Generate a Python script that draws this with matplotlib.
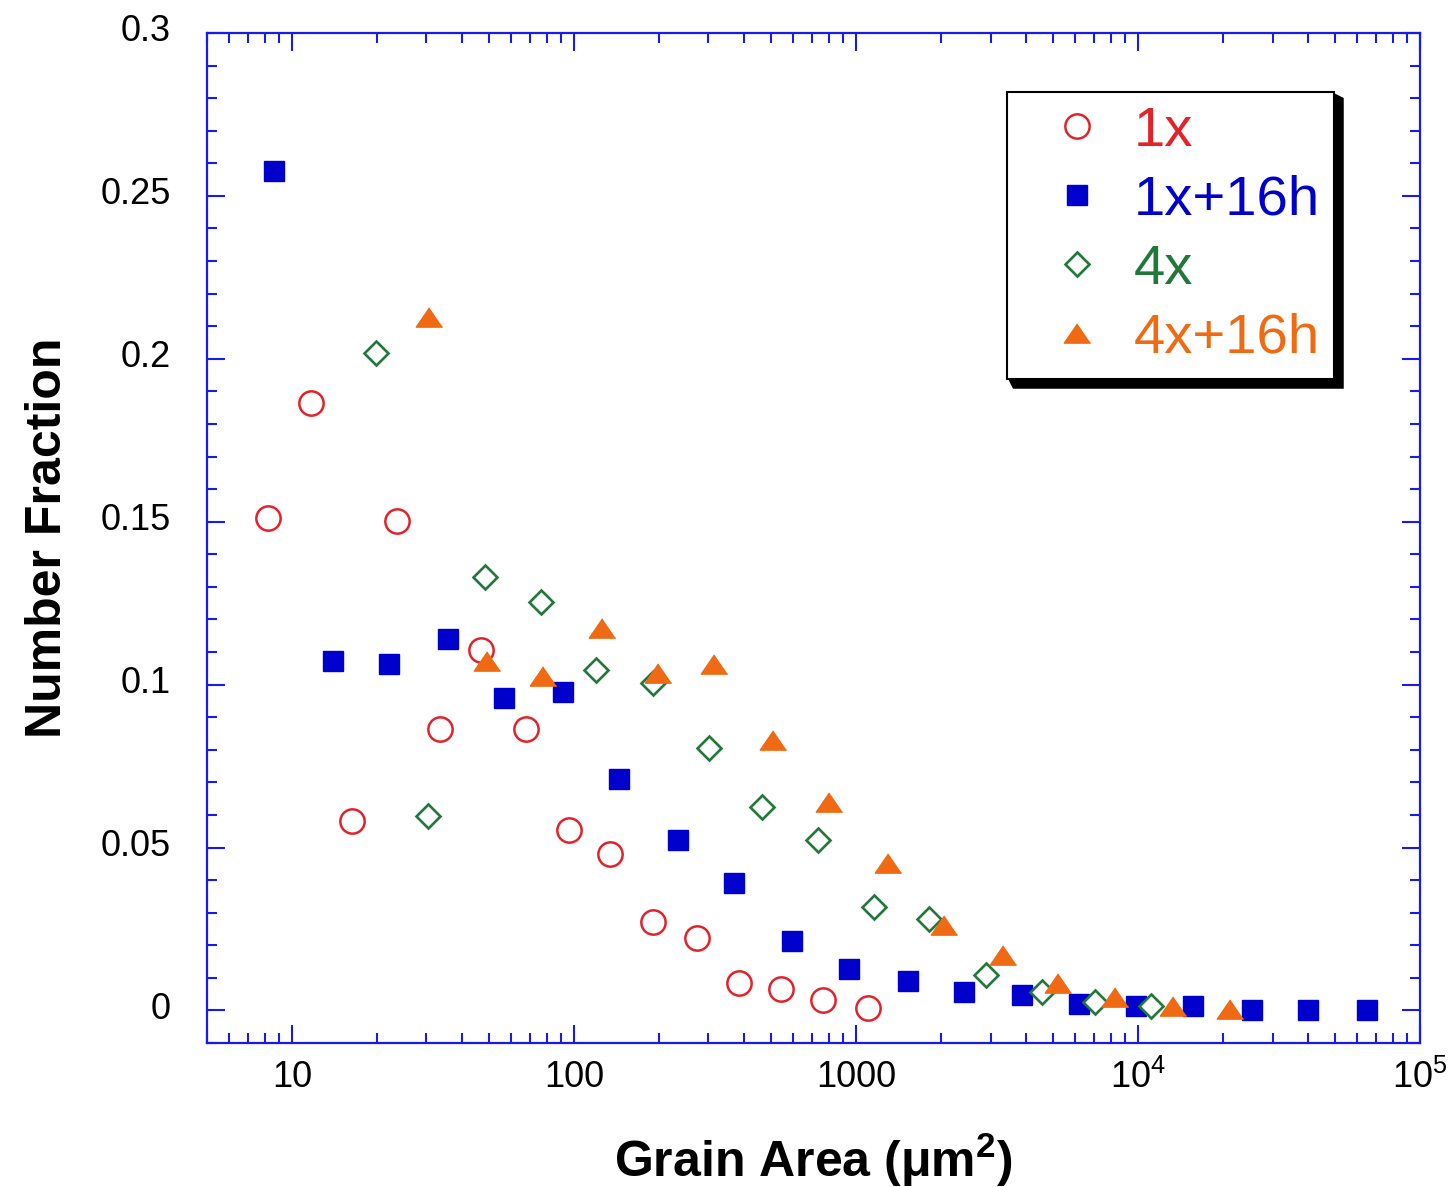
import matplotlib
matplotlib.use("Agg")
import matplotlib.pyplot as plt
from matplotlib.ticker import FixedLocator, FixedFormatter, LogLocator, MultipleLocator, NullFormatter
from matplotlib.transforms import ScaledTranslation, IdentityTransform
from matplotlib.patches import Polygon

plt.rcParams['font.family'] = ['Liberation Sans', 'DejaVu Sans']
plt.rcParams['mathtext.fontset'] = 'custom'
plt.rcParams['mathtext.rm'] = 'Liberation Sans'
plt.rcParams['mathtext.it'] = 'Liberation Sans:italic'
plt.rcParams['mathtext.bf'] = 'Liberation Sans:bold'

# ---- data: grain area (um^2) vs number fraction ----
series_labels = ['1x', '1x+16h', '4x', '4x+16h']

area_1x = [8.25, 11.7, 16.4, 23.6, 33.5, 47.0, 67.8, 95.7, 134.8, 190, 274,
           386, 544, 766, 1105]
frac_1x = [0.1511, 0.1863, 0.0581, 0.1501, 0.0864, 0.1107, 0.0864, 0.0554,
           0.0479, 0.0272, 0.0221, 0.0083, 0.0066, 0.0032, 0.0007]

area_1x16h = [8.66, 14.0, 22.1, 35.8, 56.5, 91.3, 144.1, 233.1, 368.9, 594.8,
              943.8, 1526, 2408, 3894, 6170, 9878, 15680, 25350, 40000, 64860]
frac_1x16h = [0.2576, 0.1071, 0.1064, 0.1139, 0.0959, 0.0977, 0.0711, 0.0523,
              0.0391, 0.0212, 0.0127, 0.0091, 0.0058, 0.0047, 0.0021, 0.0013,
              0.0013, 0.0, 0.0, 0.0]

area_4x = [19.8, 30.4, 48.3, 76.2, 120.2, 190.2, 300.1, 463.6, 733.3, 1157,
           1821, 2888, 4557, 7041, 11160]
frac_4x = [0.2018, 0.0598, 0.1329, 0.1253, 0.1045, 0.1005, 0.0806, 0.0625,
           0.0523, 0.0316, 0.0282, 0.0109, 0.0058, 0.0025, 0.0015]

area_4x16h = [30.6, 49.2, 77.6, 125.9, 199.2, 314.4, 508.3, 802.1, 1297, 2046,
              3309, 5222, 8287, 13320, 21140]
frac_4x16h = [0.2129, 0.1073, 0.1027, 0.1175, 0.1037, 0.1063, 0.0830, 0.0641,
              0.0452, 0.0263, 0.0169, 0.0083, 0.0040, 0.0015, 0.0005]

x_ticks = [10, 100, 1000, 1e4, 1e5]
x_tick_labels = ['10', '100', '1000', r'$\mathregular{10^{4}}$', r'$\mathregular{10^{5}}$']
y_ticks = [0, 0.05, 0.1, 0.15, 0.2, 0.25, 0.3]
y_tick_labels = ['0', '0.05', '0.1', '0.15', '0.2', '0.25', '0.3']

# ---- styling ----
RED = '#e3222a'
BLUE = '#0000cc'
GREEN = '#22773a'
ORANGE = '#ef6a12'
AXIS_BLUE = '#1a1aee'
wide_triangle = [(0, 0.73), (-1, -0.73), (1, -0.73)]

W, H = 1451, 1187
fig = plt.figure(figsize=(W / 100, H / 100), dpi=100)
ax = fig.add_axes([207 / W, 1 - 1043 / H, (1420 - 207) / W, (1043 - 33) / H])

ax.plot(area_1x, frac_1x, ls='none', marker='o', ms=17.5, mfc='white',
        mec=RED, mew=1.8, label=series_labels[0], zorder=3)
ax.plot(area_1x16h, frac_1x16h, ls='none', marker='s', ms=14.3, mfc=BLUE,
        mec=BLUE, mew=1.0, label=series_labels[1], zorder=4)
ax.plot(area_4x, frac_4x, ls='none', marker='D', ms=12.3, mfc='white',
        mec=GREEN, mew=1.9, label=series_labels[2], zorder=5)
ax.plot(area_4x16h, frac_4x16h, ls='none', marker=wide_triangle, ms=19.0,
        mfc=ORANGE, mec=ORANGE, mew=1.0, label=series_labels[3], zorder=6)

ax.set_xscale('log')
ax.set_xlim(5, 1e5)
ax.set_ylim(-0.01, 0.3)

for sp in ax.spines.values():
    sp.set_color(AXIS_BLUE)
    sp.set_linewidth(1.6)

ax.xaxis.set_major_locator(FixedLocator(x_ticks))
ax.xaxis.set_major_formatter(FixedFormatter(x_tick_labels))
ax.xaxis.set_minor_locator(LogLocator(base=10, subs=range(2, 10)))
ax.xaxis.set_minor_formatter(NullFormatter())
ax.yaxis.set_major_locator(FixedLocator(y_ticks))
ax.yaxis.set_major_formatter(FixedFormatter(y_tick_labels))
ax.yaxis.set_minor_locator(MultipleLocator(0.01))

ax.tick_params(which='both', direction='in', top=True, right=True,
               color=AXIS_BLUE, width=1.5)
ax.tick_params(which='major', length=13)
ax.tick_params(which='minor', length=7.5)
ax.tick_params(axis='x', which='major', labelsize=26, pad=12)
ax.tick_params(axis='y', which='major', labelsize=26, pad=26)

nudge = ScaledTranslation(0, 0.05, fig.dpi_scale_trans)
for lab in ax.get_yticklabels():
    lab.set_transform(lab.get_transform() + nudge)

ax.set_xlabel(r'Grain Area (μm$^{\mathbf{2}}$)', fontsize=36, fontweight='bold')
ax.xaxis.set_label_coords(0.5, -0.087)
ax.set_ylabel('Number Fraction', fontsize=36, fontweight='bold')
ax.yaxis.set_label_coords(-0.112, 0.5)

leg = ax.legend(loc='upper left', bbox_to_anchor=((1007 - 207) / 1213, (1043 - 92) / 1010),
                borderaxespad=0, fancybox=False, framealpha=1, edgecolor='black',
                prop={'family': 'Liberation Sans', 'size': 40.5},
                handlelength=2.0, handletextpad=0.0, borderpad=0.25,
                labelspacing=0.3)
leg.get_frame().set_linewidth(1.5)
for txt, col in zip(leg.get_texts(), [RED, BLUE, GREEN, ORANGE]):
    txt.set_color(col)

# extruded shadow along the right and bottom of the legend frame
fig.canvas.draw()
bb = leg.get_frame().get_window_extent()
d = 10
shadow = Polygon([(bb.x1, bb.y1 - 1), (bb.x1 + d, bb.y1 - 6), (bb.x1 + d, bb.y0 - d),
                  (bb.x0 + 6, bb.y0 - d), (bb.x0 + 1, bb.y0), (bb.x1, bb.y0)],
                 closed=True, facecolor='black', edgecolor='none',
                 transform=IdentityTransform(), zorder=10)
fig.add_artist(shadow)

fig.savefig('out.png', dpi=100)
